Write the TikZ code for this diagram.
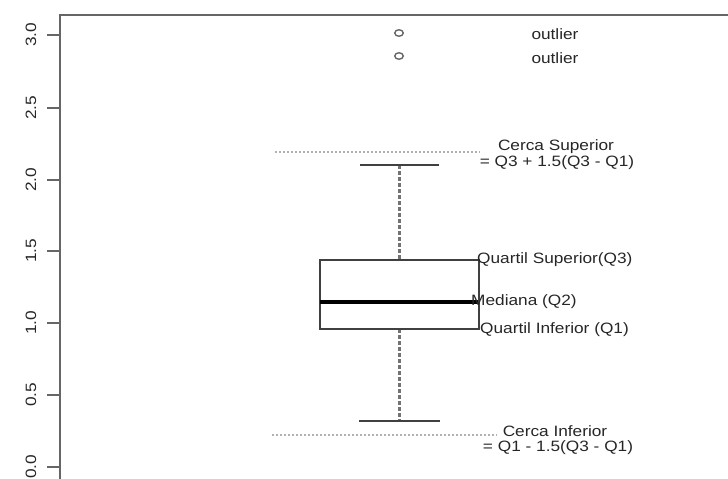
\documentclass[tikz,border=0pt]{standalone}
\usepackage{fontspec}
\usetikzlibrary{shapes.geometric}
\newfontfamily\labfont[FakeStretch=1.15]{Liberation Sans}
\begin{document}
\begin{tikzpicture}[x=1pt,y=-1pt,
  lab/.style={font=\labfont\fontsize{15}{17}\selectfont, text=black!85, inner sep=0pt},
  axisline/.style={draw=black!60, line width=2pt},
  boxline/.style={draw=black!75, line width=1.6pt},
  whisk/.style={draw=black!55, line width=2.6pt, dash pattern=on 3.5pt off 2.5pt},
  fence/.style={draw=black!30, line width=1.3pt, dash pattern=on 2pt off 2pt},
  outl/.style={ellipse, draw=black!60, line width=1.4pt, minimum width=8.5pt, minimum height=6.5pt, inner sep=0pt}]
\useasboundingbox (0,0) rectangle (728,479);
% axes
\draw[axisline] (60,479) -- (60,15) -- (728,15);
\foreach \v/\y [count=\i] in {3.0/35,2.5/108,2.0/180,1.5/251,1.0/323,0.5/395,0.0/467}{
  \draw[axisline, line width=1.6pt] (47,\y) -- (60,\y);
  \node[lab, rotate=90] (t\i) at (31,\y) {\v};
}
% fences
\draw[fence] (275,152) -- (480,152);
\draw[fence] (272,435) -- (497,435);
% whiskers
\draw[whisk] (399.5,165) -- (399.5,260);
\draw[whisk] (399.5,329) -- (399.5,421);
\draw[boxline] (360,165) -- (439,165);
\draw[boxline] (359,421) -- (440,421);
% box
\draw[boxline] (320,260) rectangle (479,329);
\draw[draw=black, line width=3.2pt] (320,302) -- (478,302);
% outliers
\node[outl] (o1) at (399,33) {};
\node[outl] (o2) at (399,56) {};
% labels
\node[lab] (l1) at (555,34) {outlier};
\node[lab] (l2) at (555,58) {outlier};
\node[lab] (cs) at (556,147) {Cerca Superior};
\node[lab] (cs2) at (557,163) {= Q3 + 1.5(Q3 - Q1)};
\node[lab, anchor=west] (q3) at (477,260) {Quartil Superior(Q3)};
\node[lab, anchor=west] (q2) at (471,302) {Mediana (Q2)};
\node[lab, anchor=west] (q1) at (480,330) {Quartil Inferior (Q1)};
\node[lab] (ci) at (555,431) {Cerca Inferior};
\node[lab] (ci2) at (558,448) {= Q1 - 1.5(Q3 - Q1)};
\end{tikzpicture}
\end{document}
